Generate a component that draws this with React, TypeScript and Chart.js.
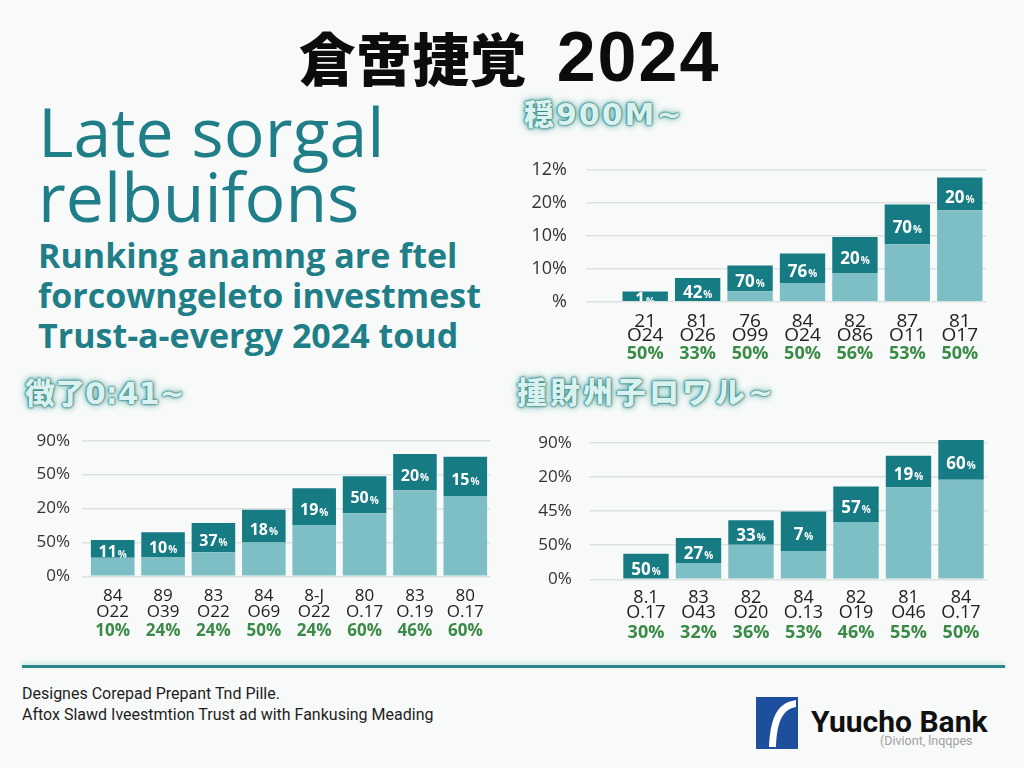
import React, { useEffect, useRef } from "react";
import { Chart, registerables } from "chart.js";

Chart.register(...registerables);

const FONT = "'Open Sans', 'Noto Sans', sans-serif";
const DARK = "#177b84";
const LIGHT = "#7dbfc4";
const GREEN = "#3b8a47";
const GRID = "#dde2e2";
const TEAL_TEXT = "#1f7e87";

// ---- Top-right panel ----
const trCodeTop = ["21", "81", "76", "84", "82", "87", "81"];
const trCodeMid = ["O24", "O26", "O99", "O24", "O86", "O11", "O17"];
const trPct = ["50%", "33%", "50%", "50%", "56%", "53%", "50%"];
const trLight = [0, 0, 3.2, 5.7, 8.7, 17.4, 27.7];
const trDark = [3.1, 7.2, 7.8, 8.9, 10.9, 12.1, 10.0];
const trInBar = ["1%", "42%", "70%", "76%", "20%", "70%", "20%"];
const trYTicks = ["12%", "20%", "10%", "10%", "%"];

// ---- Bottom-left panel ----
const blCodeTop = ["84", "89", "83", "84", "8-J", "80", "83", "80"];
const blCodeMid = ["O22", "O39", "O22", "O69", "O22", "O.17", "O.19", "O.17"];
const blPct = ["10%", "24%", "24%", "50%", "24%", "60%", "46%", "60%"];
const blLight = [5.5, 5.7, 7.1, 10.0, 15.0, 18.6, 25.4, 23.7];
const blDark = [5.2, 7.3, 8.6, 9.6, 11.0, 10.9, 10.7, 11.6];
const blInBar = ["11%", "10%", "37%", "18%", "19%", "50%", "20%", "15%"];
const blYTicks = ["90%", "50%", "20%", "50%", "0%"];

// ---- Bottom-right panel ----
const brCodeTop = ["8.1", "83", "82", "84", "82", "81", "84"];
const brCodeMid = ["O.17", "O43", "O20", "O.13", "O19", "O46", "O.17"];
const brPct = ["30%", "32%", "36%", "53%", "46%", "55%", "50%"];
const brLight = [0, 4.8, 10.1, 8.3, 16.8, 27.0, 29.2];
const brDark = [7.5, 7.3, 7.2, 11.6, 10.4, 9.2, 11.6];
const brInBar = ["50%", "27%", "33%", "7%", "57%", "19%", "60%"];
const brYTicks = ["90%", "20%", "45%", "50%", "0%"];

const barLabelPlugin = {
  id: "barLabels",
  afterDatasetsDraw(chart: any, _args: any, opts: any) {
    const labels: string[] = opts.labels || [];
    const meta = chart.getDatasetMeta(1);
    const ctx = chart.ctx;
    meta.data.forEach((el: any, i: number) => {
      const { x, y, base, width } = el.getProps(["x", "y", "base", "width"], true);
      const top = Math.min(y, base);
      const bottom = Math.max(y, base);
      const h = bottom - top;
      if (h <= 0) return;
      const txt = labels[i] || "";
      const num = txt.replace("%", "");
      const hasPct = txt.includes("%");
      ctx.save();
      ctx.beginPath();
      ctx.rect(x - width / 2, top, width, h);
      ctx.clip();
      ctx.fillStyle = "#ffffff";
      ctx.textBaseline = "middle";
      ctx.textAlign = "left";
      ctx.font = `bold ${opts.size}px ${FONT}`;
      const w1 = ctx.measureText(num).width;
      ctx.font = `bold ${opts.pctSize}px ${FONT}`;
      const w2 = hasPct ? ctx.measureText("%").width + 1 : 0;
      const sx = x - (w1 + w2) / 2;
      const cy = (top + bottom) / 2 + opts.dy;
      ctx.font = `bold ${opts.size}px ${FONT}`;
      ctx.fillText(num, sx, cy);
      if (hasPct) {
        ctx.font = `bold ${opts.pctSize}px ${FONT}`;
        ctx.fillText("%", sx + w1 + 1, cy + 2);
      }
      ctx.restore();
    });
  },
};

type Spec = {
  codeTop: string[];
  codeMid: string[];
  pct: string[];
  light: number[];
  dark: number[];
  inBar: string[];
  yTicks: string[];
  padTop: number;
  padRight: number;
  padBottom: number;
  yWidth: number;
  tickLen: number;
  tickPad: number;
  yFont: number;
  xFont: number;
  xLineHeight: number;
  xPad: number;
  xH: number;
  pctFont: number;
  x2Pad: number;
  x2H: number;
  labelSize: number;
};

function buildConfig(s: Spec): any {
  return {
    type: "bar",
    data: {
      labels: s.codeTop,
      datasets: [
        {
          data: s.light,
          backgroundColor: LIGHT,
          borderWidth: 0,
          barPercentage: 0.865,
          categoryPercentage: 1,
          clip: false,
        },
        {
          data: s.dark,
          backgroundColor: DARK,
          borderWidth: 0,
          barPercentage: 0.865,
          categoryPercentage: 1,
          clip: false,
        },
      ],
    },
    options: {
      responsive: false,
      animation: false,
      layout: { padding: { top: s.padTop, right: s.padRight, bottom: s.padBottom, left: 0 } },
      plugins: {
        legend: { display: false },
        tooltip: { enabled: false },
        barLabels: { labels: s.inBar, size: s.labelSize, pctSize: 10, dy: 4 },
      },
      scales: {
        x: {
          type: "category",
          stacked: true,
          offset: true,
          weight: 0,
          labels: s.codeTop.map((c, i) => [c, s.codeMid[i]]),
          grid: { display: false, drawTicks: false },
          border: { display: false },
          ticks: {
            padding: s.xPad,
            color: "#222222",
            autoSkip: false,
            maxRotation: 0,
            font: { family: FONT, size: s.xFont, lineHeight: s.xLineHeight },
          },
          afterFit: (sc: any) => {
            sc.height = s.xH;
          },
        },
        x2: {
          type: "category",
          position: "bottom",
          offset: true,
          weight: 1,
          labels: s.pct,
          grid: { display: false, drawTicks: false },
          border: { display: false },
          ticks: {
            padding: s.x2Pad,
            color: GREEN,
            autoSkip: false,
            maxRotation: 0,
            font: { family: FONT, size: s.pctFont, weight: "bold", lineHeight: 1 },
          },
          afterFit: (sc: any) => {
            sc.height = s.x2H;
          },
        },
        y: {
          stacked: true,
          min: 0,
          max: 40,
          grid: { color: GRID, lineWidth: 1.5, tickLength: s.tickLen, drawTicks: true },
          border: { display: false },
          ticks: {
            stepSize: 10,
            padding: s.tickPad,
            color: "#333333",
            font: { family: FONT, size: s.yFont },
            callback: (_v: any, i: number) => s.yTicks[s.yTicks.length - 1 - i],
          },
          afterFit: (sc: any) => {
            sc.width = s.yWidth;
          },
        },
      },
    },
    plugins: [barLabelPlugin],
  };
}

const trSpec: Spec = {
  codeTop: trCodeTop, codeMid: trCodeMid, pct: trPct, light: trLight, dark: trDark,
  inBar: trInBar, yTicks: trYTicks,
  padTop: 16.7, padRight: 29, padBottom: 6.5, yWidth: 119, tickLen: 33, tickPad: 19,
  yFont: 18, xFont: 19, xLineHeight: 0.75, xPad: 12.5, xH: 41, pctFont: 18, x2Pad: 2.5, x2H: 20.8,
  labelSize: 17,
};
const blSpec: Spec = {
  codeTop: blCodeTop, codeMid: blCodeMid, pct: blPct, light: blLight, dark: blDark,
  inBar: blInBar, yTicks: blYTicks,
  padTop: 25.7, padRight: 19.5, padBottom: 14.3, yWidth: 87.5, tickLen: 5.8, tickPad: 11.7,
  yFont: 17, xFont: 17, xLineHeight: 0.92, xPad: 12.5, xH: 43.9, pctFont: 17, x2Pad: 2.5, x2H: 20.5,
  labelSize: 16,
};
const brSpec: Spec = {
  codeTop: brCodeTop, codeMid: brCodeMid, pct: brPct, light: brLight, dark: brDark,
  inBar: brInBar, yTicks: brYTicks,
  padTop: 22.7, padRight: 27.75, padBottom: 12.7, yWidth: 114.75, tickLen: 30.45, tickPad: 17.6,
  yFont: 17, xFont: 18, xLineHeight: 0.83, xPad: 11.5, xH: 41.5, pctFont: 18, x2Pad: 3.5, x2H: 21.5,
  labelSize: 17,
};

function BarPanel(props: { spec: Spec; left: number; top: number; width: number; height: number }) {
  const ref = useRef<HTMLCanvasElement>(null);
  useEffect(() => {
    const chart = new Chart(ref.current as HTMLCanvasElement, buildConfig(props.spec));
    return () => chart.destroy();
  }, []);
  return (
    <canvas
      ref={ref}
      width={props.width}
      height={props.height}
      style={{ position: "absolute", left: props.left, top: props.top, width: props.width, height: props.height }}
    />
  );
}

const glow: React.CSSProperties = {
  position: "absolute",
  color: "#daf2ef",
  fontFamily: "'DejaVu Sans', 'Noto Sans CJK JP', sans-serif",
  fontWeight: 900,
  fontSize: 30,
  lineHeight: "34px",
  letterSpacing: 1,
  whiteSpace: "nowrap",
  textShadow:
    "0 0 1px #2d7b7b, 0 0 2px #2d7b7b, 0 0 3px #3f8e8c, 0 0 6px #6fb3af, 0 0 10px #a8d8d4",
};

function Logo() {
  return (
    <svg width={42} height={52} viewBox="0 0 42 52" style={{ position: "absolute", left: 756, top: 697 }}>
      <rect x={0} y={0} width={42} height={52} fill="#1d4f9e" />
      <path d="M40 3 C23 6 15 16 13 50 L20 50 C21 24 27 12 40 10 Z" fill="#ffffff" />
    </svg>
  );
}

export default function App() {
  return (
    <div
      style={{
        position: "absolute",
        left: 0,
        top: 0,
        width: 1024,
        height: 768,
        overflow: "hidden",
        background: "#f8faf9",
        fontFamily: FONT,
      }}
    >
      {/* Title */}
      <div
        style={{
          position: "absolute",
          left: 0,
          top: 21,
          width: 1019,
          textAlign: "center",
          lineHeight: "70px",
          color: "#0c0c0c",
          whiteSpace: "nowrap",
        }}
      >
        <span style={{ fontFamily: "'Noto Sans CJK JP', sans-serif", fontWeight: 900, fontSize: 57 }}>倉啻捷覚</span>
        <span
          style={{
            fontFamily: "'Liberation Sans', Arial, sans-serif",
            fontWeight: 700,
            fontSize: 70,
            marginLeft: 30,
            letterSpacing: 2,
          }}
        >
          2024
        </span>
      </div>

      {/* Heading block */}
      <div
        style={{
          position: "absolute",
          left: 38,
          top: 97.8,
          color: TEAL_TEXT,
          fontSize: 68,
          lineHeight: "65px",
          whiteSpace: "nowrap",
        }}
      >
        <div>Late sorgal</div>
        <div>relbuifons</div>
      </div>
      <div
        style={{
          position: "absolute",
          left: 38,
          top: 234.5,
          color: TEAL_TEXT,
          fontSize: 34,
          fontWeight: 700,
          lineHeight: "40px",
          whiteSpace: "nowrap",
        }}
      >
        <div>Runking anamng are ftel</div>
        <div>forcowngeleto investmest</div>
        <div>Trust-a-evergy 2024 toud</div>
      </div>

      {/* Panel titles */}
      <div style={{ ...glow, left: 524, top: 98, letterSpacing: 2 }}>穏900M~</div>
      <div style={{ ...glow, left: 25, top: 377, letterSpacing: 0 }}>徴了0:41~</div>
      <div style={{ ...glow, left: 517, top: 376, letterSpacing: 3 }}>揰財州子ロワル~</div>

      {/* Charts */}
      <BarPanel spec={trSpec} left={500} top={140} width={515} height={230} />
      <BarPanel spec={blSpec} left={0} top={415} width={510} height={240} />
      <BarPanel spec={brSpec} left={505} top={415} width={510} height={240} />

      {/* Divider */}
      <div
        style={{
          position: "absolute",
          left: 22,
          top: 665,
          width: 983,
          height: 3,
          background: "#2a878c",
          boxShadow: "0 -2px 4px rgba(120,200,200,0.45)",
        }}
      />

      {/* Footer */}
      <div
        style={{
          position: "absolute",
          left: 22,
          top: 683,
          fontFamily: "Roboto, sans-serif",
          fontSize: 16,
          lineHeight: "21px",
          color: "#1e1e1e",
          whiteSpace: "nowrap",
        }}
      >
        <div>Designes Corepad Prepant Tnd Pille.</div>
        <div>Aftox Slawd Iveestmtion Trust ad with Fankusing Meading</div>
      </div>

      <Logo />
      <div
        style={{
          position: "absolute",
          left: 811,
          top: 704,
          fontFamily: "Roboto, sans-serif",
          fontWeight: 700,
          fontSize: 30,
          lineHeight: "36px",
          color: "#111111",
          whiteSpace: "nowrap",
        }}
      >
        Yuucho Bank
      </div>
      <div
        style={{
          position: "absolute",
          left: 880,
          top: 733,
          fontFamily: "Roboto, sans-serif",
          fontSize: 12.5,
          lineHeight: "15px",
          color: "#a0a0a0",
          whiteSpace: "nowrap",
        }}
      >
        (Diviont, lnqqpes
      </div>
    </div>
  );
}
